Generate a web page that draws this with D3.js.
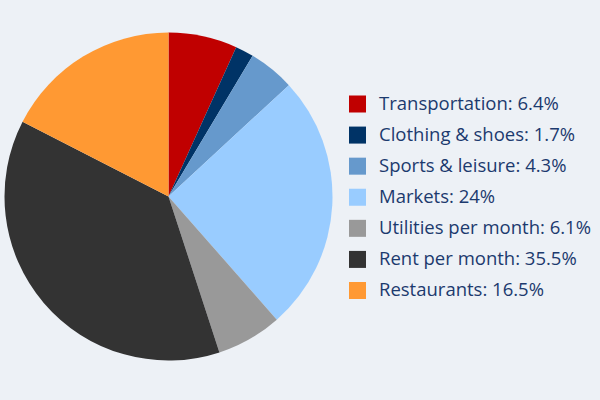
<!DOCTYPE html>
<html>
<head>
<meta charset="utf-8">
<script src="https://cdn.jsdelivr.net/npm/d3@7"></script>
<style>
  body { margin: 0; background: #edf1f6; }
</style>
</head>
<body>
<svg id="pie_chart"></svg>
<script>
// data
var categories = ["Transportation", "Clothing & shoes", "Sports & leisure", "Markets",
                  "Utilities per month", "Rent per month", "Restaurants"];
var values = [6.4, 1.7, 4.3, 24, 6.1, 35.5, 16.5];
var labels = ["6.4%", "1.7%", "4.3%", "24%", "6.1%", "35.5%", "16.5%"];
var colors = ["#c00000", "#003366", "#6699cc", "#99ccff", "#999999", "#333333", "#ff9933"];

var width = 600, height = 400;
var svg = d3.select("#pie_chart")
  .attr("width", width)
  .attr("height", height);

svg.append("rect")
  .attr("width", width).attr("height", height)
  .attr("fill", "#edf1f6");

var data = categories.map(function(c, i) {
  return {name: c, value: values[i], label: labels[i], color: colors[i]};
});

// pie
var radius = 164;
var pie = d3.pie().sort(null).value(function(d) { return d.value; });
var arc = d3.arc().innerRadius(0).outerRadius(radius);

var g = svg.append("g")
  .attr("transform", "translate(168.5,196.5)");

g.selectAll("path")
  .data(pie(data))
  .enter()
  .append("path")
  .attr("d", arc)
  .attr("fill", function(d) { return d.data.color; });

// legend
var legend_y = d3.scalePoint()
  .domain(categories)
  .range([103.5, 290]);

var legend = svg.append("g")
  .selectAll("g")
  .data(data)
  .enter()
  .append("g")
  .attr("transform", function(d) { return "translate(349," + legend_y(d.name) + ")"; });

legend.append("rect")
  .attr("x", 0).attr("y", -8)
  .attr("width", 17).attr("height", 17)
  .attr("fill", function(d) { return d.color; });

legend.append("text")
  .attr("x", 30)
  .attr("dy", "0.35em")
  .attr("font-family", "'Open Sans', sans-serif")
  .attr("font-size", "18.5px")
  .attr("fill", "#1c3a6e")
  .text(function(d) { return d.name + ": " + d.label; });
</script>
</body>
</html>
